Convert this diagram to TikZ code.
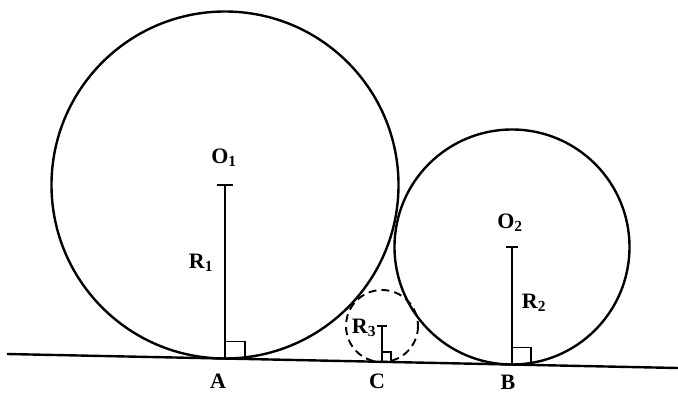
\documentclass[tikz,border=0pt]{standalone}
\usepackage{fontspec}
\setmainfont{Liberation Serif}
\begin{document}
\begin{tikzpicture}[x=1pt,y=-1pt,
  curve/.style={line width=2.4pt},
  rad/.style={line width=2.6pt},
  anglemark/.style={line width=1.9pt},
  lbl/.style={font=\fontsize{22}{22}\selectfont\bfseries, inner sep=0pt}]
\useasboundingbox (0,0) rectangle (678,394);
% centres and tangent points
\coordinate (O1) at (225,185);
\coordinate (A) at (225,358.5);
\coordinate (O2) at (512,247);
\coordinate (B) at (512,364.5);
\coordinate (O3) at (382,326);
\coordinate (C) at (382,362);
\coordinate (L1) at (7,354);
\coordinate (L2) at (678,368);
% ground line
\draw[curve] (L1) -- (L2);
% circles
\draw[curve] (O1) circle (173.5);
\draw[curve] (O2) circle (117.5);
\draw[line width=1.9pt, dash pattern=on 8pt off 5pt] (O3) circle (36);
% radii
\draw[rad] (O1) -- (A);
\draw[rad] ([xshift=-8]O1) -- ([xshift=8]O1);
\draw[rad] (O2) -- (B);
\draw[rad] ([xshift=-6]O2) -- ([xshift=6]O2);
\draw[rad] (O3) -- (C);
\draw[rad] ([xshift=-5]O3) -- ([xshift=5]O3);
% right-angle marks
\draw[anglemark] ([yshift=17]A) -- ++(20,0) -- ++(0,17.4);
\draw[anglemark] ([yshift=17]B) -- ++(19,0) -- ++(0,17.4);
\draw[anglemark] ([yshift=10]C) -- ++(9,0) -- ++(0,10.2);
% labels
\node[lbl] (tO1) at (224,158) {O\textsubscript{1}};
\node[lbl] (tO2) at (510,223) {O\textsubscript{2}};
\node[lbl] (tR1) at (201,263) {R\textsubscript{1}};
\node[lbl] (tR2) at (534,303) {R\textsubscript{2}};
\node[lbl] (tR3) at (364,328) {R\textsubscript{3}};
\node[lbl] (tA) at (218,381) {A};
\node[lbl] (tC) at (377,381) {C};
\node[lbl] (tB) at (508,382) {B};
\end{tikzpicture}
\end{document}
